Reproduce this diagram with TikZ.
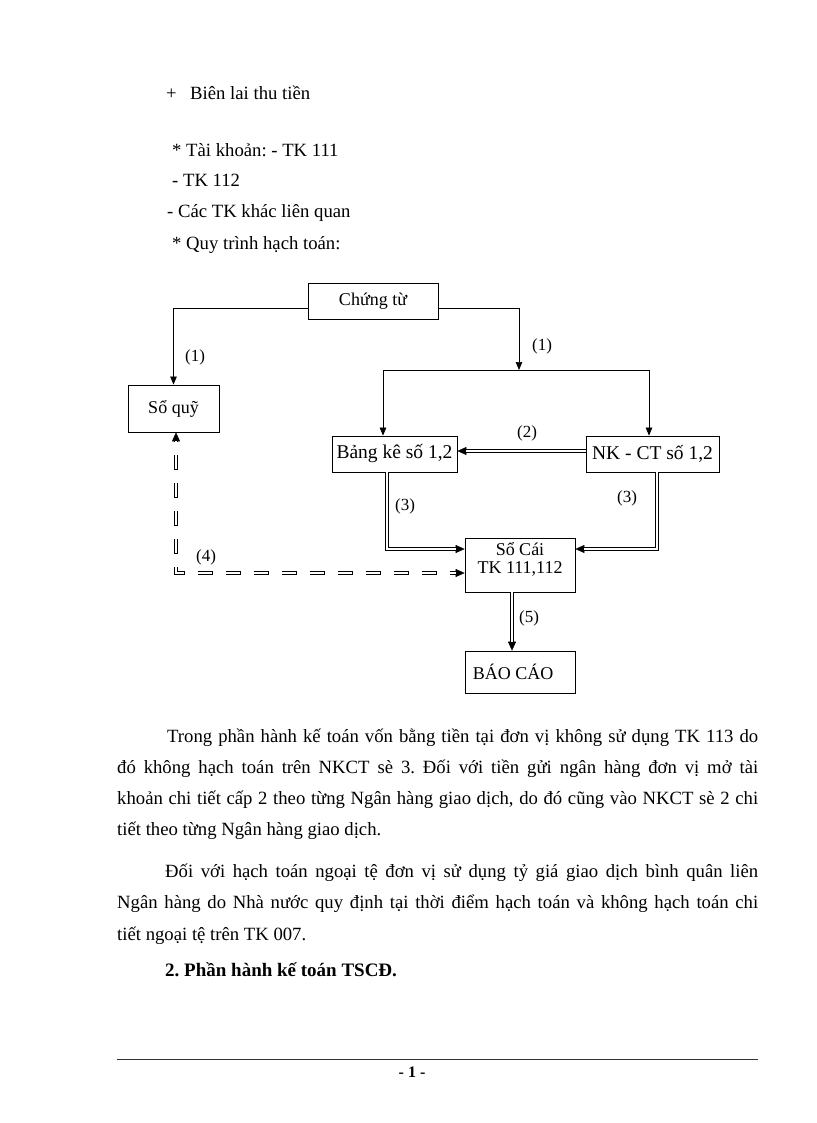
\documentclass[tikz,border=0pt]{standalone}
\usepackage{fontspec}
\setmainfont{Liberation Serif}
\usetikzlibrary{arrows.meta,calc}
\frenchspacing
\begin{document}
\begin{tikzpicture}[x=1pt,y=-1pt,
  >={Triangle[length=8pt,width=6.5pt]},
  box/.style={draw, line width=0.8pt, inner sep=0pt, align=center, font=\fontsize{18}{18}\selectfont},
  btxt/.style={inner sep=0pt, align=center, font=\fontsize{18}{18}\selectfont},
  ln/.style={line width=0.7pt},
  dtip/.tip={Triangle[length=9pt,width=8pt,line width=0.4pt]},
  dbl/.style={line width=3.8pt, -dtip,
    postaction={draw=white, line width=1.5pt, -, shorten >=8.5pt}},
  dbldash/.style={line width=3.8pt, dash pattern=on 15pt off 13pt, dash phase=14.5pt,
    dtip-dtip,
    postaction={draw=white, line width=1.5pt, -, shorten >=8.5pt, shorten <=8.5pt,
      dash pattern=on 15pt off 13pt, dash phase=14.5pt}},
  lbl/.style={font=\fontsize{17}{17}\selectfont, inner sep=0pt},
  body/.style={anchor=base west, inner sep=0pt, font=\fontsize{18.7}{22}\selectfont}]
\useasboundingbox (0,0) rectangle (816,1123);
\fill[white] (0,0) rectangle (816,1123);

% top text
\node[body] (plus) at (166,100) {+};
\node[body] (bien) at (190,100) {Biên lai thu tiền};
\node[body] (tk1) at (172,157) {* Tài khoản: - TK 111};
\node[body] (tk2) at (172,187) {- TK 112};
\node[body] (tk3) at (167,218) {- Các TK khác liên quan};
\node[body] (qt) at (172,249) {* Quy trình hạch toán:};

% boxes
\node[box, minimum width=130pt, minimum height=36pt] (ct) at (373,301) {Chứng từ};
\node[box, minimum width=91pt, minimum height=47pt] (sq) at (173.5,408.5) {Sổ quỹ};
\node[box, minimum width=125pt, minimum height=36pt, font=\fontsize{19.5}{19.5}\selectfont] (bk) at (394.5,454) {Bảng kê số 1,2};
\node[box, minimum width=133pt, minimum height=36pt, font=\fontsize{19.5}{19.5}\selectfont] (nk) at (652.5,454) {NK - CT số 1,2};
\node[box, minimum width=110pt, minimum height=54pt] (sc) at (520,565) {};
\node[btxt] (sct) at (520,559) {Sổ Cái\\TK 111,112};
\node[box, minimum width=110pt, minimum height=42pt] (bc) at (520,672) {BÁO CÁO\hspace*{14pt}};

% helper coordinates
\coordinate (ctL) at (308,308);
\coordinate (ctR) at (438,308);
\coordinate (jn) at (519,370);
\coordinate (jl) at (383,370);
\coordinate (jr) at (649,370);
\coordinate (y2) at (0,451);
\coordinate (y3) at (0,549);
\coordinate (x3l) at (387,0);
\coordinate (x3r) at (657,0);
\coordinate (x4) at (176,0);
\coordinate (y4) at (0,573);
\coordinate (x5) at (512,0);

% connectors
\draw[ln,->] (ctL) -| (sq.north);
\draw[ln,->] (ctR) -| (jn);
\draw[ln] (jl) -- (jr);
\draw[ln,->] (jl) -- (jl |- bk.north);
\draw[ln,->] (jr) -- (jr |- nk.north);
\draw[dbl] (nk.west |- y2) -- (bk.east |- y2);
\draw[dbl] (bk.south -| x3l) |- (sc.west |- y3);
\draw[dbl] (nk.south -| x3r) |- (sc.east |- y3);
\draw[dbldash] (sq.south -| x4) |- (sc.west |- y4);
\draw[dbl] (sc.south -| x5) -- (bc.north -| x5);

% labels
\node[lbl] (l1a) at (195,357) {(1)};
\node[lbl] (l1b) at (542,346) {(1)};
\node[lbl] (l2) at (527,433) {(2)};
\node[lbl] (l3a) at (405,506) {(3)};
\node[lbl] (l3b) at (627,498) {(3)};
\node[lbl] (l4) at (206,557) {(4)};
\node[lbl] (l5) at (529,618) {(5)};

% paragraphs
\node[body] (p1) at (167,742) {\hbox to 591pt{Trong phần hành kế toán vốn bằng tiền tại đơn vị không sử dụng TK 113 do}};
\node[body] (p2) at (117,773) {\hbox to 641pt{đó không hạch toán trên NKCT sè 3. Đối với tiền gửi ngân hàng đơn vị mở tài}};
\node[body] (p3) at (117,804) {\hbox to 641pt{khoản chi tiết cấp 2 theo từng Ngân hàng giao dịch, do đó cũng vào NKCT sè 2 chi}};
\node[body] (p4) at (117,835) {tiết theo từng Ngân hàng giao dịch.};
\node[body] (q1) at (165,877) {\hbox to 593pt{Đối với hạch toán ngoại tệ đơn vị sử dụng tỷ giá giao dịch bình quân liên}};
\node[body] (q2) at (117,908) {\hbox to 641pt{Ngân hàng do Nhà nước quy định tại thời điểm hạch toán và không hạch toán chi}};
\node[body] (q3) at (117,940) {tiết ngoại tệ trên TK 007.};
\node[body, font=\fontsize{19}{22}\selectfont\bfseries] (hd) at (165,976) {2. Phần hành kế toán TSCĐ.};

% footer
\coordinate (fl) at (117,1059);
\coordinate (fr) at (758,1059);
\draw[line width=0.9pt, black!80] (fl) -- (fr);
\node[anchor=base, inner sep=0pt, font=\fontsize{16}{16}\selectfont\bfseries] (pg) at (412,1077) {- 1 -};
\end{tikzpicture}
\end{document}
